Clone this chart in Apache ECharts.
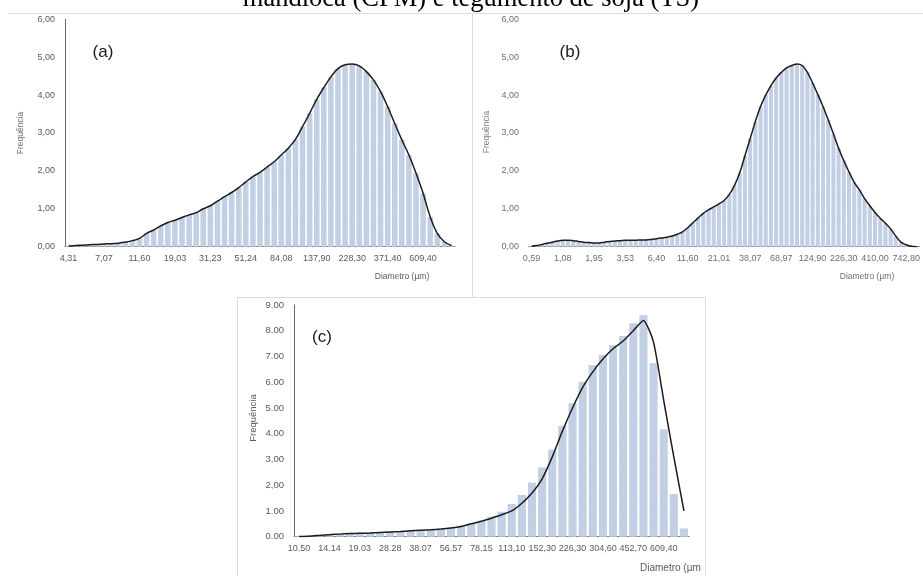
<!DOCTYPE html>
<html>
<head>
<meta charset="utf-8">
<script src="https://cdn.jsdelivr.net/npm/echarts@6/dist/echarts.min.js"></script>
<style>
  html, body { margin: 0; padding: 0; background: #ffffff; }
  #chart { width: 923px; height: 576px; }
</style>
</head>
<body>
<div id="chart"></div>
<script>
// Particle size distributions (frequency % per size class)
const titleText = 'mandioca (CPM) e tegumento de soja (TS)';

// (a)
const ticksA = ['4,31', '7,07', '11,60', '19,03', '31,23', '51,24', '84,08', '137,90', '228,30', '371,40', '609,40'];
const classesPerTickA = 5;
const freqA = [
  0.02, 0.03, 0.04, 0.05, 0.06, 0.07, 0.08, 0.09, 0.12, 0.16,
  0.22, 0.35, 0.44, 0.55, 0.64, 0.70, 0.77, 0.84, 0.90, 1.00,
  1.08, 1.20, 1.32, 1.43, 1.56, 1.71, 1.85, 1.96, 2.10, 2.24,
  2.42, 2.60, 2.83, 3.17, 3.52, 3.89, 4.20, 4.48, 4.70, 4.80,
  4.82, 4.77, 4.62, 4.40, 4.09, 3.70, 3.25, 2.82, 2.42, 1.94,
  1.41, 0.79, 0.35, 0.13, 0.03
];
const yTicksA = ['0,00', '1,00', '2,00', '3,00', '4,00', '5,00', '6,00'];

// (b)
const ticksB = ['0,59', '1,08', '1,95', '3,53', '6,40', '11,60', '21,01', '38,07', '68,97', '124,90', '226,30', '410,00', '742,80'];
const classesPerTickB = 6;
const freqB = [
  0.01, 0.03, 0.06, 0.09, 0.12, 0.15, 0.17, 0.17, 0.16, 0.14,
  0.12, 0.11, 0.10, 0.10, 0.12, 0.14, 0.15, 0.16, 0.17, 0.17,
  0.17, 0.18, 0.18, 0.19, 0.21, 0.23, 0.25, 0.28, 0.33, 0.39,
  0.50, 0.63, 0.76, 0.88, 0.97, 1.05, 1.13, 1.22, 1.38, 1.62,
  1.95, 2.40, 2.85, 3.30, 3.70, 4.00, 4.25, 4.45, 4.60, 4.72,
  4.78, 4.82, 4.78, 4.60, 4.32, 4.02, 3.70, 3.35, 2.98, 2.60,
  2.27, 1.97, 1.70, 1.50, 1.27, 1.08, 0.90, 0.75, 0.62, 0.47,
  0.28, 0.12, 0.05, 0.01, 0.00
];
const yTicksB = ['0,00', '1,00', '2,00', '3,00', '4,00', '5,00', '6,00'];

// (c)
const ticksC = ['10.50', '14.14', '19.03', '28.28', '38.07', '56.57', '78.15', '113,10', '152,30', '226,30', '304,60', '452,70', '609,40'];
const classesPerTickC = 3;
const freqC = [
  0.02, 0.04, 0.07, 0.09, 0.11, 0.13, 0.15, 0.16, 0.17, 0.19,
  0.21, 0.23, 0.26, 0.28, 0.31, 0.36, 0.43, 0.52, 0.62, 0.78,
  0.97, 1.27, 1.62, 2.10, 2.69, 3.39, 4.30, 5.18, 6.02, 6.67,
  7.06, 7.45, 7.80, 8.29, 8.60, 6.74, 4.17, 1.66, 0.32
];
const curveC = [
  0.01, 0.02, 0.05, 0.08, 0.10, 0.12, 0.13, 0.14, 0.16, 0.18,
  0.20, 0.23, 0.25, 0.27, 0.30, 0.34, 0.40, 0.50, 0.60, 0.72,
  0.85, 1.00, 1.30, 1.70, 2.25, 3.10, 4.10, 5.00, 5.80, 6.40,
  6.90, 7.30, 7.60, 8.00, 8.40, 7.55, 5.30, 3.10, 1.00
];
const yTicksC = ['0.00', '1.00', '2,00', '3,00', '4.00', '5.00', '6.00', '7.00', '8.00', '9.00'];

// category axis: a label every n classes, blanks in between
function classNames(ticks, perTick, count) {
  const out = [];
  for (let i = 0; i < count; i++) {
    out.push(i % perTick === 0 && ticks[i / perTick] !== undefined ? ticks[i / perTick] : '');
  }
  return out;
}

const barColor = '#bccbe1';
const barTexture = {
  symbol: 'rect', symbolSize: 1, color: 'rgba(255,255,255,0.35)',
  dashArrayX: [1, 1], dashArrayY: [1, 1], rotation: Math.PI / 4
};
const lineColor = '#1c1c1c';
const font = 'Liberation Sans';

function xAxisOf(idx, cats, color, size) {
  return {
    type: 'category', gridIndex: idx, data: cats, boundaryGap: true,
    axisLine: { show: true, lineStyle: { color: '#7a7a7a', width: 1 } },
    axisTick: { show: false },
    axisLabel: { interval: 0, color: color, fontSize: size, fontFamily: font, margin: 7 },
    splitLine: { show: false }
  };
}
function yAxisOf(idx, max, ticks, color, size, showLine) {
  return {
    type: 'value', gridIndex: idx, min: 0, max: max, interval: 1,
    axisLine: { show: showLine, lineStyle: { color: '#6a6a6a', width: 1 } },
    axisTick: { show: false },
    splitLine: { show: false },
    axisLabel: {
      color: color, fontSize: size, fontFamily: font, margin: 10,
      formatter: function (v) { return ticks[Math.round(v)]; }
    }
  };
}

const catsA = classNames(ticksA, classesPerTickA, freqA.length);
const catsB = classNames(ticksB, classesPerTickB, freqB.length);
const catsC = classNames(ticksC, classesPerTickC, freqC.length);

function axisName(text, x, y, size, color, rotate, align) {
  return {
    type: 'text', x: x, y: y, rotation: rotate ? Math.PI / 2 : 0,
    style: { text: text, font: size + 'px ' + font, fill: color, textAlign: align || 'center', textVerticalAlign: 'middle' }
  };
}
function frameLine(x1, y1, x2, y2) {
  return { type: 'line', shape: { x1: x1, y1: y1, x2: x2, y2: y2 }, style: { stroke: '#dcdcdc', lineWidth: 1 }, silent: true };
}

const chart = echarts.init(document.getElementById('chart'), null, { renderer: 'canvas' });
chart.setOption({
  backgroundColor: '#ffffff',
  animation: false,
  grid: [
    { left: 65, top: 19.3, width: 390, height: 227.4 },
    { left: 529, top: 19.3, width: 391, height: 227.4 },
    { left: 294, top: 305, width: 395, height: 231.7 }
  ],
  xAxis: [
    xAxisOf(0, catsA, '#595959', 9),
    xAxisOf(1, catsB, '#6f6f6f', 9),
    xAxisOf(2, catsC, '#595959', 9)
  ],
  yAxis: [
    yAxisOf(0, 6, yTicksA, '#595959', 9, true),
    yAxisOf(1, 6, yTicksB, '#6f6f6f', 9, false),
    yAxisOf(2, 9, yTicksC, '#595959', 9.5, true)
  ],
  series: [
    { type: 'bar', xAxisIndex: 0, yAxisIndex: 0, data: freqA, barCategoryGap: '22%', itemStyle: { color: barColor, decal: barTexture } },
    { type: 'line', xAxisIndex: 0, yAxisIndex: 0, data: freqA, smooth: 0.4, symbol: 'none', lineStyle: { color: lineColor, width: 1.5 } },
    { type: 'bar', xAxisIndex: 1, yAxisIndex: 1, data: freqB, barCategoryGap: '22%', itemStyle: { color: barColor, decal: barTexture } },
    { type: 'line', xAxisIndex: 1, yAxisIndex: 1, data: freqB, smooth: 0.4, symbol: 'none', lineStyle: { color: lineColor, width: 1.5 } },
    { type: 'bar', xAxisIndex: 2, yAxisIndex: 2, data: freqC, barCategoryGap: '20%', itemStyle: { color: barColor, decal: barTexture } },
    { type: 'line', xAxisIndex: 2, yAxisIndex: 2, data: curveC, smooth: 0.2, symbol: 'none', lineStyle: { color: lineColor, width: 1.5 } }
  ],
  graphic: [
    {
      type: 'text', x: 471, y: -1,
      style: { text: titleText, font: '26.5px "Liberation Serif"', fill: '#000000', textAlign: 'center', textVerticalAlign: 'middle' }
    },
    { type: 'text', x: 103, y: 52, style: { text: '(a)', font: '17px ' + font, fill: '#1a1a1a', textAlign: 'center', textVerticalAlign: 'middle' } },
    { type: 'text', x: 570, y: 52, style: { text: '(b)', font: '17px ' + font, fill: '#1a1a1a', textAlign: 'center', textVerticalAlign: 'middle' } },
    { type: 'text', x: 322, y: 337, style: { text: '(c)', font: '17px ' + font, fill: '#1a1a1a', textAlign: 'center', textVerticalAlign: 'middle' } },
    axisName('Frequência', 21, 133, 8.5, '#6f6f6f', true),
    axisName('Frequência', 487, 132, 8.5, '#7f7f7f', true),
    axisName('Frequência', 253, 418, 9.5, '#595959', true),
    axisName('Diametro (µm)', 402, 277, 8.5, '#595959', false),
    axisName('Diametro (µm)', 867, 277, 8.5, '#6f6f6f', false),
    axisName('Diametro (µm)', 640, 568, 10, '#595959', false, 'left'),
    // the lower panel is cropped at its right edge
    { type: 'rect', shape: { x: 701, y: 298, width: 222, height: 278 }, style: { fill: '#ffffff' }, silent: true },
    frameLine(8, 13.5, 923, 13.5),
    frameLine(472.5, 13, 472.5, 297),
    frameLine(237, 297.5, 705, 297.5),
    frameLine(237.5, 297, 237.5, 576),
    frameLine(705.5, 297, 705.5, 576)
  ]
});
</script>
</body>
</html>
